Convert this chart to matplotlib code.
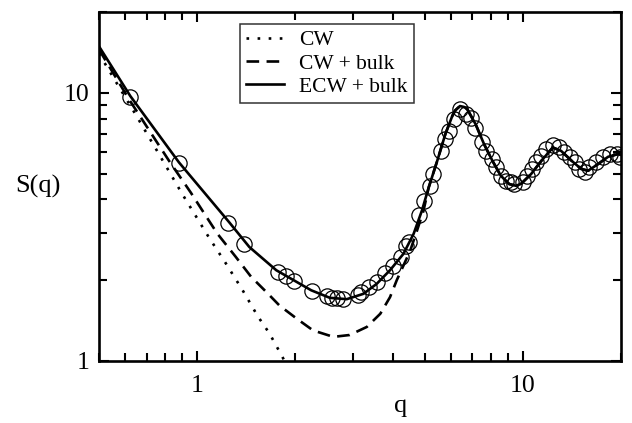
import matplotlib
matplotlib.use('Agg')
import matplotlib.pyplot as plt
from matplotlib.ticker import LogLocator, NullFormatter

plt.rcParams['font.family'] = ['Liberation Serif', 'DejaVu Serif']
plt.rcParams['mathtext.fontset'] = 'stix'

# simulation points (open circles)
q_sim = [0.624, 0.880, 1.243, 1.397, 1.77, 1.87, 1.98, 2.26, 2.50, 2.59, 2.68, 2.81,
         3.12, 3.19, 3.36, 3.56, 3.78, 3.99, 4.22, 4.39, 4.46, 4.81, 4.98, 5.20, 5.30,
         5.61, 5.78, 5.93, 6.14, 6.41, 6.67, 6.91, 7.11, 7.51, 7.69, 8.06, 8.26, 8.55,
         8.86, 9.18, 9.40, 9.98, 10.3, 10.7, 11.0, 11.4, 11.8, 12.35, 12.9, 13.4, 13.9,
         14.4, 14.9, 15.5, 16.0, 16.8, 17.6, 18.5, 19.4, 19.8]
s_sim = [9.64, 5.45, 3.26, 2.73, 2.15, 2.07, 1.98, 1.82, 1.74, 1.72, 1.71, 1.70,
         1.76, 1.81, 1.88, 1.97, 2.12, 2.26, 2.45, 2.68, 2.78, 3.49, 3.96, 4.50, 4.98,
         6.07, 6.71, 7.21, 7.97, 8.68, 8.35, 8.07, 7.41, 6.53, 6.07, 5.65, 5.27, 4.91,
         4.70, 4.64, 4.57, 4.64, 4.91, 5.19, 5.50, 5.82, 6.16, 6.40, 6.28, 5.99, 5.74,
         5.50, 5.19, 5.05, 5.27, 5.50, 5.74, 5.90, 5.90, 5.74]

# CW
q_cw = [0.50, 0.554, 0.647, 0.703, 0.754, 0.901, 1.089, 1.226, 1.380, 1.535, 1.668, 1.791, 1.856, 1.90]
s_cw = [14.0, 11.37, 8.32, 7.01, 6.07, 4.19, 2.88, 2.31, 1.835, 1.47, 1.267, 1.083, 1.0, 0.95]

# CW + bulk
q_cwb = [0.50, 0.62, 0.820, 0.956, 1.038, 1.155, 1.316, 1.465, 1.63, 1.79, 2.02, 2.27,
         2.62, 2.94, 3.32, 3.65, 3.91, 4.10, 4.30, 4.51, 4.73, 4.95, 5.14, 5.46, 5.78,
         6.07, 6.2, 6.41, 6.6, 6.75, 7.16, 7.60, 8.06, 8.55, 9.07, 9.51, 9.86, 10.6,
         11.4, 12.35, 13.1, 14.1, 15.1, 15.85, 17.0, 18.25, 19.6, 20.2]
s_cwb = [14.5, 9.4, 5.58, 4.25, 3.64, 2.98, 2.44, 2.06, 1.81, 1.61, 1.44, 1.30,
         1.23, 1.25, 1.34, 1.50, 1.73, 2.00, 2.27, 2.58, 3.06, 3.62, 4.44, 5.58, 7.01,
         8.19, 8.6, 8.92, 8.85, 8.68, 7.63, 6.43, 5.58, 4.91, 4.57, 4.50, 4.57, 4.98,
         5.58, 6.25, 6.07, 5.58, 5.20, 5.12, 5.42, 5.77, 5.91, 5.85]

# ECW + bulk
q_ecw = [0.50, 0.624, 0.88, 1.255, 1.447, 1.75, 2.24, 2.555, 2.88, 3.24, 3.56, 3.91,
         4.30, 4.62, 4.90, 5.14, 5.46, 5.78, 6.07, 6.2, 6.41, 6.6, 6.75, 7.16, 7.60,
         8.06, 8.55, 9.07, 9.51, 9.86, 10.6, 11.4, 12.35, 13.1, 14.1, 15.1, 15.85,
         17.0, 18.25, 19.6, 20.2]
s_ecw = [14.9, 9.72, 5.50, 3.29, 2.66, 2.18, 1.835, 1.72, 1.70, 1.78, 1.94, 2.18,
         2.51, 2.98, 3.64, 4.44, 5.58, 7.01, 8.19, 8.6, 8.92, 8.85, 8.68, 7.63, 6.43,
         5.58, 4.91, 4.57, 4.50, 4.57, 4.98, 5.58, 6.25, 6.07, 5.58, 5.20, 5.12,
         5.42, 5.77, 5.91, 5.85]

fig = plt.figure(figsize=(6.32, 4.23), dpi=100)
ax = fig.add_axes([0.1566, 0.1466, 0.826, 0.825])

ax.plot(q_sim, s_sim, 'o', ms=11, mfc='none', mec='black', mew=0.9, zorder=3)
ax.plot(q_cw, s_cw, color='black', lw=1.9, linestyle=(0, (1, 3.2)), label='CW')
ax.plot(q_cwb, s_cwb, color='black', lw=1.9, linestyle=(0, (4.8, 2.8)), label='CW + bulk')
ax.plot(q_ecw, s_ecw, color='black', lw=1.9, label='ECW + bulk')

ax.set_xscale('log')
ax.set_yscale('log')
ax.set_xlim(0.5, 20)
ax.set_ylim(1, 20)

ax.set_xticks([1, 10], ['1', '10'])
ax.set_yticks([1, 10], ['1', '10'])
ax.xaxis.set_minor_locator(LogLocator(base=10, subs=range(2, 10)))
ax.yaxis.set_minor_locator(LogLocator(base=10, subs=range(2, 10)))
ax.xaxis.set_minor_formatter(NullFormatter())
ax.yaxis.set_minor_formatter(NullFormatter())

ax.tick_params(which='both', direction='in', top=True, right=True, width=1.5, labelsize=18.5)
ax.tick_params(which='major', length=7)
ax.tick_params(which='minor', length=6)
ax.tick_params(axis='x', pad=10)
ax.tick_params(axis='y', pad=7)
for sp in ax.spines.values():
    sp.set_linewidth(1.9)

ax.set_xlabel('q', fontsize=19)
ax.set_ylabel('S(q)', fontsize=19, rotation=0, va='center', ha='center')
ax.xaxis.set_label_coords(0.577, -0.13)
ax.yaxis.set_label_coords(-0.117, 0.5)
ax.xaxis.label.set_va('center')

leg = ax.legend(loc='upper left', bbox_to_anchor=(0.27, 0.966), fontsize=15.5,
                frameon=True, fancybox=False, handlelength=1.75, handletextpad=0.7,
                labelspacing=0.15, borderpad=0.3, borderaxespad=0)
leg.get_frame().set_edgecolor('black')
leg.get_frame().set_linewidth(1.1)

fig.savefig('out.png', dpi=100)
